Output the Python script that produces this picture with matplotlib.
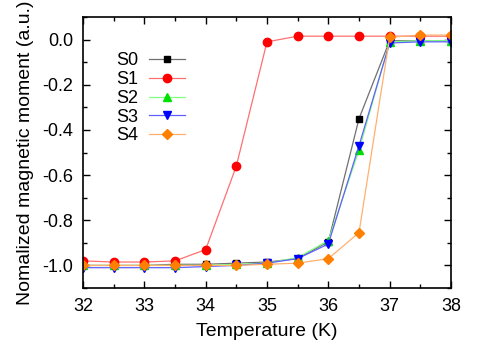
import matplotlib
matplotlib.use("Agg")
import matplotlib.pyplot as plt
from matplotlib.ticker import MultipleLocator

plt.rcParams['font.family'] = ['Liberation Sans', 'DejaVu Sans']

temp = [32, 32.5, 33, 33.5, 34, 34.5, 35, 35.5, 36, 36.5, 37, 37.5, 38]
s0 = [-1.0, -1.0, -1.0, -0.995, -0.995, -0.99, -0.985, -0.97, -0.895, -0.35, -0.005, -0.005, -0.005]
s1 = [-0.98, -0.985, -0.985, -0.98, -0.93, -0.56, -0.01, 0.015, 0.015, 0.015, 0.015, 0.015, 0.015]
s2 = [-1.0, -1.0, -1.0, -1.0, -1.0, -0.995, -0.99, -0.965, -0.89, -0.49, -0.01, -0.005, -0.005]
s3 = [-1.01, -1.01, -1.01, -1.01, -1.005, -1.0, -0.99, -0.97, -0.905, -0.47, -0.015, -0.01, -0.01]
s4 = [-1.0, -1.0, -1.0, -1.0, -1.0, -1.0, -0.995, -0.99, -0.97, -0.855, 0.01, 0.02, 0.02]

labels = ['S0', 'S1', 'S2', 'S3', 'S4']
series = [s0, s1, s2, s3, s4]
markers = ['s', 'o', '^', 'v', 'D']
mcolors = ['black', 'red', '#00e000', 'blue', '#ff8000']
lcolors = ['#707070', '#ff7070', '#80ff80', '#6060ff', '#ffb070']
msizes = [5, 6, 6, 6, 5]

fig = plt.figure(figsize=(4.79, 3.48), dpi=100)
ax = fig.add_axes([83/479, 1-288/348, (451-83)/479, (288-17)/348])

for y, lab, m, mc, lc, ms in zip(series, labels, markers, mcolors, lcolors, msizes):
    ax.plot(temp, y, color=lc, lw=0.9, marker=m, markersize=ms,
            markerfacecolor=mc, markeredgecolor=mc, label=lab)

ax.set_xlim(32, 38)
ax.set_ylim(-1.1, 0.1)
ax.xaxis.set_major_locator(MultipleLocator(1))
ax.xaxis.set_minor_locator(MultipleLocator(0.5))
ax.yaxis.set_major_locator(MultipleLocator(0.2))
ax.yaxis.set_minor_locator(MultipleLocator(0.1))
ax.tick_params(which='both', direction='in', top=True, right=True, labelsize=13, width=1)
ax.tick_params(which='major', length=5, pad=7)
ax.tick_params(which='minor', length=3)
ax.set_yticks([0.0, -0.2, -0.4, -0.6, -0.8, -1.0])
ax.set_yticklabels(['0.0', '-0.2', '-0.4', '-0.6', '-0.8', '-1.0'])
for sp in ax.spines.values():
    sp.set_linewidth(1.2)

ax.set_xlabel('Temperature (K)', fontsize=14, labelpad=6)
ax.set_ylabel('Nomalized magnetic moment (a.u.)', fontsize=14, labelpad=6)

leg = ax.legend(loc='upper left', bbox_to_anchor=(0.045, 0.93), frameon=False,
                fontsize=13, handlelength=2.0, markerfirst=False,
                labelspacing=0.1, handletextpad=0.6)

fig.savefig('out.png', dpi=100)
